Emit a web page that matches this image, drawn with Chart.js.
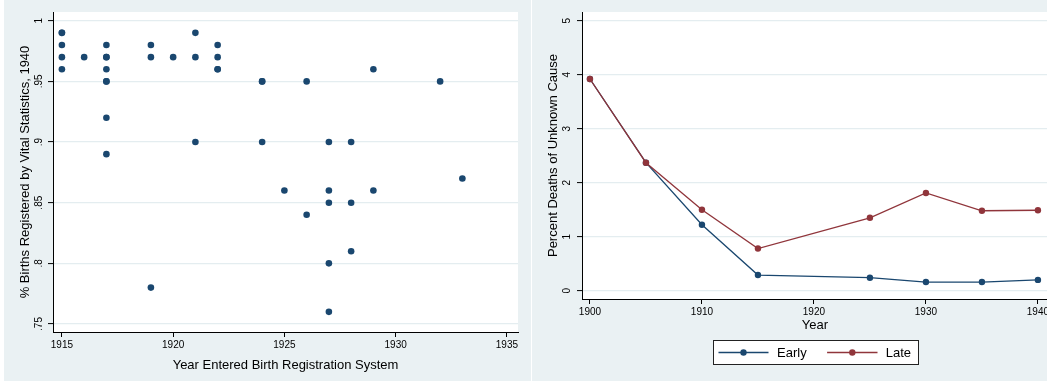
<!DOCTYPE html>
<html><head><meta charset="utf-8">
<script src="https://cdn.jsdelivr.net/npm/chart.js@4.4.1/dist/chart.umd.min.js"></script>
<style>
html,body{margin:0;padding:0;background:#fff;overflow:hidden;width:1047px;height:381px;}
#p1{position:absolute;left:4px;top:0;width:527px;height:381px;background:#eaf1f3;}
#p2{position:absolute;left:532px;top:0;width:560px;height:381px;background:#eaf1f3;}
canvas{display:block}
</style></head><body>
<div id="p1"><canvas id="c1" width="527" height="381"></canvas></div>
<div id="p2"><canvas id="c2" width="560" height="381"></canvas></div>
<script>
// ---- Left panel: scatter ----
const scatterYears  = [1915,1915,1915,1915,1915, 1916, 1917,1917,1917,1917,1917,1917,1917,1917, 1919,1919,1919, 1920, 1921,1921,1921, 1922,1922,1922,1922, 1924,1924,1924, 1925, 1926,1926, 1927,1927,1927,1927,1927, 1928,1928,1928, 1929,1929, 1932, 1933];
const scatterShares = [0.99,0.99,0.98,0.97,0.96, 0.97, 0.98,0.97,0.97,0.96,0.95,0.95,0.92,0.89, 0.98,0.97,0.78, 0.97, 0.99,0.97,0.90, 0.98,0.97,0.96,0.96, 0.95,0.95,0.90, 0.86, 0.95,0.84, 0.90,0.86,0.85,0.80,0.76, 0.90,0.85,0.81, 0.96,0.86, 0.95, 0.87];
const xTicks1 = [1915,1920,1925,1930,1935];
const xTickLabels1 = ['1915','1920','1925','1930','1935'];
const yTicks1 = [0.75,0.8,0.85,0.9,0.95,1];
const yTickLabels1 = ['.75','.8','.85','.9','.95','1'];

// ---- Right panel: lines ----
const lineYears   = [1900,1905,1910,1915,1925,1930,1935,1940];
const earlyValues = [3.92,2.37,1.22,0.29,0.24,0.16,0.16,0.20];
const lateValues  = [3.92,2.37,1.50,0.78,1.35,1.81,1.48,1.49];
const seriesNames = ['Early','Late'];
const xTicks2 = [1900,1910,1920,1930,1940];
const xTickLabels2 = ['1900','1910','1920','1930','1940'];
const yTicks2 = [0,1,2,3,4,5];
const yTickLabels2 = ['0','1','2','3','4','5'];

const FONT = '"Liberation Sans", Arial, Helvetica, sans-serif';
Chart.defaults.font.family = FONT;
Chart.defaults.color = '#000';
const NAVY = '#1a476f', MAROON = '#90353b', GRID = '#e4edf0';

const plotBg = {id:'plotBg', beforeDraw(chart){
  const {ctx, chartArea:a} = chart;
  ctx.save(); ctx.fillStyle = '#fff';
  ctx.fillRect(a.left, a.top, a.right - a.left, a.bottom - a.top);
  ctx.restore();
}};

const rotYTicks = {id:'rotYTicks', afterDraw(chart, args, opts){
  const s = chart.scales.y, ctx = chart.ctx;
  ctx.save();
  ctx.font = '10px ' + FONT; ctx.fillStyle = '#000';
  ctx.textAlign = 'center'; ctx.textBaseline = 'middle';
  opts.values.forEach((v,i) => {
    const y = s.getPixelForValue(v);
    ctx.save(); ctx.translate(opts.x, y); ctx.rotate(-Math.PI/2);
    ctx.fillText(opts.labels[i], 0, 0); ctx.restore();
  });
  ctx.restore();
}};

const stataLegend = {id:'stataLegend', afterDraw(chart){
  const {ctx, chartArea:a} = chart;
  const w = 205, h = 24;
  const cx = (a.left + a.right) / 2;
  const left = Math.round(cx - w/2) + 0.5, top = a.bottom + 41 + 0.5;
  ctx.save();
  ctx.fillStyle = '#fff'; ctx.fillRect(left, top, w, h);
  ctx.strokeStyle = '#222'; ctx.lineWidth = 1; ctx.strokeRect(left, top, w, h);
  const cy = top + h/2;
  const offs = [[5,30,55,63.6],[113.6,138.8,164,172.3]];
  chart.data.datasets.forEach((ds,i) => {
    const o = offs[i];
    ctx.strokeStyle = ds.borderColor; ctx.lineWidth = 1.3;
    ctx.beginPath(); ctx.moveTo(left+o[0], cy); ctx.lineTo(left+o[2], cy); ctx.stroke();
    ctx.fillStyle = ds.borderColor;
    ctx.beginPath(); ctx.arc(left+o[1], cy, 3.2, 0, Math.PI*2); ctx.fill();
    ctx.fillStyle = '#000'; ctx.font = '13px ' + FONT;
    ctx.textAlign = 'left'; ctx.textBaseline = 'middle';
    ctx.fillText(ds.label, left+o[3], cy+0.5);
  });
  ctx.restore();
}};

function ticksFrom(arr){ return s => { s.ticks = arr.map(v => ({value:v})); }; }

// Left chart
new Chart(document.getElementById('c1'), {
  type: 'scatter',
  data: { datasets: [{
    data: scatterYears.map((x,i) => ({x:x, y:scatterShares[i]})),
    backgroundColor: NAVY, borderWidth: 0, pointRadius: 3.3
  }]},
  options: {
    responsive:false, animation:false, events:[],
    layout:{padding:{left:0, right:13, top:12, bottom:0}},
    plugins:{legend:{display:false}, tooltip:{enabled:false},
      rotYTicks:{values:yTicks1, labels:yTickLabels1, x:35.5}},
    scales:{
      x:{type:'linear', min:1914.6, max:1935.5,
        afterBuildTicks: ticksFrom(xTicks1),
        ticks:{font:{size:10}, color:'#000', padding:2, maxRotation:0, autoSkip:false,
          callback:(v,i) => xTickLabels1[i]},
        grid:{drawOnChartArea:false, drawTicks:true, tickLength:5, tickColor:'#000', tickWidth:1},
        border:{color:'#000', width:1},
        title:{display:true, text:'Year Entered Birth Registration System', font:{size:13}, color:'#000', padding:{top:0,bottom:7.8}},
        afterFit: s => { s.height = 49; }
      },
      y:{type:'linear', min:0.7434, max:1.0072,
        afterBuildTicks: ticksFrom(yTicks1),
        ticks:{display:false},
        grid:{color:GRID, lineWidth:1.2, drawTicks:true, tickLength:5, tickColor:'#000', tickWidth:1},
        border:{color:'#000', width:1},
        title:{display:true, text:'% Births Registered by Vital Statistics, 1940', font:{size:13}, color:'#000', padding:{top:13.7,bottom:0}},
        afterFit: s => { s.width = 49; }
      }
    }
  },
  plugins:[plotBg, rotYTicks]
});

// Right chart
new Chart(document.getElementById('c2'), {
  type: 'line',
  data: { datasets: [
    {label:seriesNames[0], data: lineYears.map((x,i) => ({x:x, y:earlyValues[i]})),
     borderColor:NAVY, backgroundColor:NAVY, borderWidth:1.3, pointRadius:3.2, pointBorderWidth:0, tension:0, order:1},
    {label:seriesNames[1], data: lineYears.map((x,i) => ({x:x, y:lateValues[i]})),
     borderColor:MAROON, backgroundColor:MAROON, borderWidth:1.3, pointRadius:3.2, pointBorderWidth:0, tension:0, order:0}
  ]},
  options: {
    responsive:false, animation:false, events:[],
    layout:{padding:{left:0, right:44, top:12, bottom:40}},
    plugins:{legend:{display:false}, tooltip:{enabled:false},
      rotYTicks:{values:yTicks2, labels:yTickLabels2, x:35}},
    scales:{
      x:{type:'linear', min:1899.29, max:1940.9,
        afterBuildTicks: ticksFrom(xTicks2),
        ticks:{font:{size:10}, color:'#000', padding:2, maxRotation:0, autoSkip:false,
          callback:(v,i) => xTickLabels2[i]},
        grid:{drawOnChartArea:false, drawTicks:true, tickLength:5, tickColor:'#000', tickWidth:1},
        border:{color:'#000', width:1},
        title:{display:true, text:'Year', font:{size:13}, color:'#000', padding:{top:0,bottom:7.9}},
        afterFit: s => { s.height = 42; }
      },
      y:{type:'linear', min:-0.154, max:5.161,
        afterBuildTicks: ticksFrom(yTicks2),
        ticks:{display:false},
        grid:{color:GRID, lineWidth:1.2, drawTicks:true, tickLength:5, tickColor:'#000', tickWidth:1},
        border:{color:'#000', width:1},
        title:{display:true, text:'Percent Deaths of Unknown Cause', font:{size:13}, color:'#000', padding:{top:13.8,bottom:0}},
        afterFit: s => { s.width = 50; }
      }
    }
  },
  plugins:[plotBg, rotYTicks, stataLegend]
});
</script>
</body></html>
